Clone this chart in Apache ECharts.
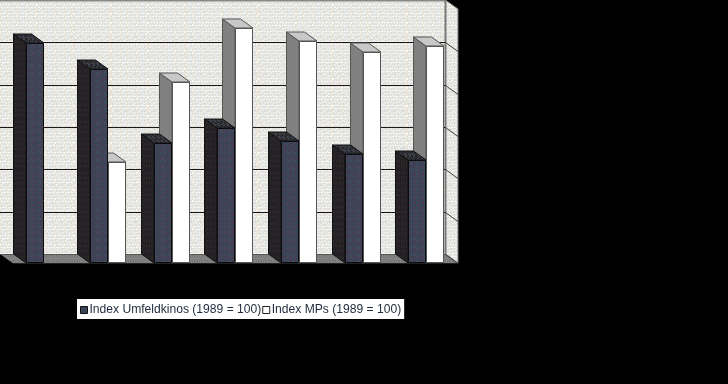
<!DOCTYPE html>
<html><head><meta charset="utf-8">
<style>html,body{margin:0;padding:0;background:#000;overflow:hidden}#c{width:728px;height:384px}</style>
<script src="https://cdn.jsdelivr.net/npm/echarts@6/dist/echarts.min.js"></script>
</head><body><div id="c"></div>
<script>
const categories = ['1989','1990','1991','1992','1993','1994','1995'];
const umfeldName = 'Index Umfeldkinos (1989 = 100)';
const mpName = 'Index MPs (1989 = 100)';
const umfeldValues = [103.8, 91.7, 56.7, 63.8, 57.6, 51.5, 48.7];
const mpValues = [null, 47.7, 85.5, 110.8, 104.9, 99.7, 102.5];
const tickValues = [0, 20, 40, 60, 80, 100, 120];

const DX = -12.5, DY = -9, BAR_RATIO = 0.283;

function dither(base, dots, size) {
  const cv = document.createElement('canvas');
  cv.width = cv.height = size;
  const g = cv.getContext('2d');
  g.fillStyle = base; g.fillRect(0, 0, size, size);
  for (let y = 0; y < size; y++) for (let x = 0; x < size; x++) {
    const k = (x * x * 3 + y * y * 7 + x * y * 5 + x) % dots.length;
    if (dots[k]) { g.fillStyle = dots[k]; g.fillRect(x, y, 1, 1); }
  }
  return { image: cv, repeat: 'repeat' };
}
const wallFill = dither('#e2e3de', ['#f0e2cc', null, '#dbe6ec', null, '#f8f8f4', null, '#d6d8d4', null, null], 37);
const floorFill = dither('#7f7f7f', ['#8a8a8a', null, null, '#747474', null], 23);
const frontFill = dither('#3a4658', ['#56364e', null, null, '#2f3f4f', null, null, '#3f5060', null], 29);
const sideFill = dither('#272226', ['#1c1b1e', null, null, '#302a2c', null], 17);
const topFill = dither('#33333a', ['#24262c', null, '#42424c', null], 13);
const px = v => Math.round(v) + 0.5;
const poly = (points, fill, stroke, w) => ({ type: 'polygon', shape: { points }, style: { fill, stroke: stroke || null, lineWidth: w || 1 }, silent: true });
const seg = (a, b, stroke, w) => ({ type: 'line', shape: { x1: a[0], y1: a[1], x2: b[0], y2: b[1] }, style: { stroke, lineWidth: w || 1 }, silent: true });

function renderWall(params, api) {
  const r = params.coordSys;
  const L = r.x, R = r.x + r.width, B = r.y + r.height, T = r.y;
  const ch = [
    poly([[L + DX, T + DY], [R + DX, T + DY], [R + DX, B + DY], [L + DX, B + DY]], wallFill),
    poly([[R + DX, T + DY], [R, T], [R, B], [R + DX, B + DY]], wallFill, '#777', 1),
    poly([[L + DX, B + DY], [R + DX, B + DY], [R, B], [L, B]], floorFill),
    seg([L + DX, px(T + DY)], [R + DX, px(T + DY)], '#8a8a8a', 2),
    seg([R + DX, B + DY], [R + DX, T + DY], '#777', 2),
    seg([L, px(B)], [R, px(B)], '#222', 1)
  ];
  tickValues.forEach(t => {
    if (t === tickValues[tickValues.length - 1]) return;
    const y = api.coord([0, t])[1];
    const by = px(y + DY);
    ch.push(seg([L + DX, by], [R + DX, by], t === 0 ? '#555' : '#1c1418', 1));
    ch.push(seg([R + DX, by], [R, by - DY], '#444', 1));
  });
  return { type: 'group', children: ch };
}

function bar(style) {
  return function (params, api) {
    const v = api.value(1);
    if (v == null || isNaN(v)) return null;
    const top = api.coord([api.value(0), v]);
    const bottom = api.coord([api.value(0), 0]);
    const w = api.size([1, 0])[0] * BAR_RATIO;
    const x0 = Math.round(style.side < 0 ? top[0] - w : top[0]);
    const x1 = Math.round(style.side < 0 ? top[0] : top[0] + w);
    const y = Math.round(top[1]), b = Math.round(bottom[1]);
    return { type: 'group', children: [
      poly([[x0 + DX, y + DY], [x0, y], [x0, b], [x0 + DX, b + DY]], style.sideFill, style.edge),
      poly([[x0 + DX, y + DY], [x1 + DX, y + DY], [x1, y], [x0, y]], style.topFill, style.edge),
      poly([[x0 + .5, y + .5], [x1 - .5, y + .5], [x1 - .5, b - .5], [x0 + .5, b - .5]], style.frontFill, style.frontEdge)
    ] };
  };
}

const chart = echarts.init(document.getElementById('c'), null, { renderer: 'canvas' });
chart.setOption({
  animation: false,
  backgroundColor: '#000',
  grid: { left: 12.5, right: 270, top: 9, bottom: 121, containLabel: false },
  xAxis: {
    type: 'category', data: categories, boundaryGap: true,
    axisLine: { show: false }, axisTick: { show: false }, splitLine: { show: false },
    axisLabel: { color: '#000', fontFamily: 'Liberation Sans', fontSize: 11, margin: 9 }
  },
  yAxis: {
    type: 'value', position: 'right', min: 0, max: 120, interval: 20,
    axisLine: { show: false }, axisTick: { show: false }, splitLine: { show: false },
    axisLabel: { color: '#000', fontFamily: 'Liberation Sans', fontSize: 11, margin: 12 }
  },
  legend: {
    left: 77, top: 299, orient: 'horizontal', backgroundColor: '#fff',
    padding: [5, 3, 3, 3], itemGap: 1, itemWidth: 7, itemHeight: 7,
    icon: 'rect', selectedMode: false,
    textStyle: { color: '#1d2b3c', fontFamily: 'Liberation Sans', fontSize: 12.1, padding: [0, 0, 0, -3] },
    data: [
      { name: umfeldName, itemStyle: { color: '#3a4658', borderColor: '#111', borderWidth: 1 } },
      { name: mpName, itemStyle: { color: '#fff', borderColor: '#222', borderWidth: 1 } }
    ]
  },
  series: [
    { type: 'custom', name: 'wall', silent: true, clip: false, z: 1, renderItem: renderWall, data: [[0, 0]], encode: { x: 0, y: 1 } },
    { type: 'custom', name: mpName, silent: true, clip: false, z: 2, itemStyle: { color: '#fff' },
      renderItem: bar({ side: 1, sideFill: '#808080', topFill: '#c8c8c8', frontFill: '#ffffff', edge: '#555', frontEdge: '#555' }),
      data: categories.map((c, i) => [i, mpValues[i]]), encode: { x: 0, y: 1 } },
    { type: 'custom', name: umfeldName, silent: true, clip: false, z: 3, itemStyle: { color: '#3a4658' },
      renderItem: bar({ side: -1, sideFill, topFill, frontFill, edge: '#111', frontEdge: '#0c0c10' }),
      data: categories.map((c, i) => [i, umfeldValues[i]]), encode: { x: 0, y: 1 } }
  ]
});
</script></body></html>
